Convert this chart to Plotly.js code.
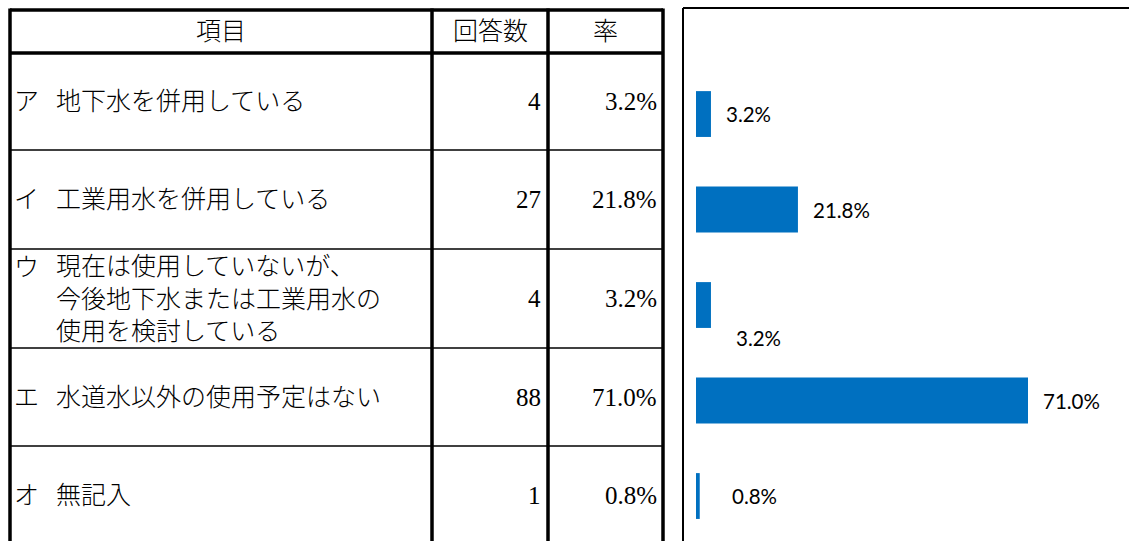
<!DOCTYPE html>
<html><head><meta charset="utf-8">
<script src="https://cdn.plot.ly/plotly-3.0.1.min.js"></script>
<style>html,body{margin:0;padding:0;background:#fff;overflow:hidden}</style>
</head><body><div id="chart" style="width:1129px;height:541px"></div>
<script>
// ---- data ----
const headers = ['項目', '回答数', '率'];
const itemMarks = ['ア', 'イ', 'ウ', 'エ', 'オ'];
const itemTexts = [
  '地下水を併用している',
  '工業用水を併用している',
  '現在は使用していないが、<br>今後地下水または工業用水の<br>使用を検討している',
  '水道水以外の使用予定はない',
  '無記入'
];
const counts = [4, 27, 4, 88, 1];
const rates = [3.2, 21.8, 3.2, 71.0, 0.8];

// ---- layout geometry (pixels) ----
const W = 1129, H = 541;
const px = v => v / W;
const py = v => 1 - v / H;
const colX = [10, 432, 548, 663];
const tableTop = 10;
const rowLines = [53, 150, 249, 348, 446, 545];
const tableFontSize = 25;
const lineH = tableFontSize * 1.3;
const tableFont = {family: 'Liberation Serif, "Noto Sans CJK JP", serif', size: tableFontSize, color: '#000', weight: 300};
const labelFont = {family: 'Lato, "Liberation Sans", sans-serif', size: 20.5, color: '#000'};
const labelShiftX = [14, 14, 24, 14, 31];
const labelShiftY = [0, 0, -33, 0, 0];

const shapes = [];
const annotations = [];
function line(x0, y0, x1, y1, w) {
  shapes.push({type: 'line', xref: 'paper', yref: 'paper', x0: px(x0), y0: py(y0), x1: px(x1), y1: py(y1),
    line: {color: '#000', width: w}});
}
// table borders
line(colX[0], tableTop, colX[3], tableTop, 3.5);
line(colX[0], rowLines[0], colX[3], rowLines[0], 3.5);
for (let k = 1; k < rowLines.length; k++) line(colX[0], rowLines[k], colX[3], rowLines[k], 1.5);
colX.forEach(x => line(x, tableTop - 1.5, x, H + 5, 3.5));
// chart frame
line(683, 8, 683, H + 5, 2);
line(683, 8, W + 5, 8, 2);

function txt(text, x, y, xanchor, opts) {
  annotations.push(Object.assign({text: text, xref: 'paper', yref: 'paper', x: px(x), y: py(y),
    xanchor: xanchor, yanchor: 'middle', showarrow: false, font: tableFont, align: 'left', borderpad: 0}, opts || {}));
}
// header
const headMid = (tableTop + rowLines[0]) / 2;
headers.forEach((h, j) => txt(h, (colX[j] + colX[j + 1]) / 2, headMid, 'center'));
// rows
itemTexts.forEach((t, i) => {
  const mid = (rowLines[i] + rowLines[i + 1]) / 2;
  const n = t.split('<br>').length;
  txt(itemMarks[i], 13, mid - (n - 1) / 2 * lineH + (n > 1 ? 1.5 : 0), 'left');
  txt(t, 55, mid, 'left');
  txt(String(counts[i]), colX[2] - 6, mid, 'right');
  txt(rates[i].toFixed(1) + '%', colX[3] - 5, mid, 'right');
});
// bar labels
rates.forEach((r, i) => {
  annotations.push({text: r.toFixed(1) + '%', xref: 'x', yref: 'y', x: r, y: itemMarks[i],
    xanchor: 'left', yanchor: 'middle', xshift: labelShiftX[i], yshift: labelShiftY[i],
    showarrow: false, font: labelFont, borderpad: 0});
});

const trace = {
  type: 'bar', orientation: 'h', x: rates, y: itemMarks, width: 0.48,
  marker: {color: '#0070C0', line: {width: 0}}, hoverinfo: 'none'
};

const layout = {
  width: W, height: H, margin: {l: 0, r: 0, t: 0, b: 0},
  paper_bgcolor: '#fff', plot_bgcolor: 'rgba(0,0,0,0)', showlegend: false,
  xaxis: {domain: [683 / W, 1], range: [-2.78, 92.6], visible: false, fixedrange: true},
  yaxis: {domain: [0, 1], type: 'category', categoryorder: 'array', categoryarray: itemMarks,
    range: [4.471, -1.194], visible: false, fixedrange: true},
  shapes: shapes, annotations: annotations
};
Plotly.newPlot('chart', [trace], layout, {staticPlot: true, displayModeBar: false});
</script>
</body></html>
